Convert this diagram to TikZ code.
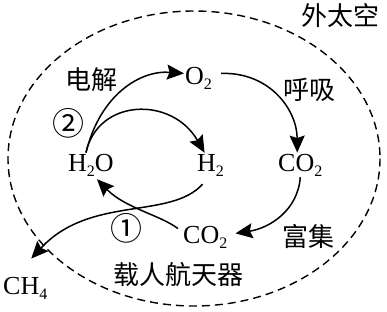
\documentclass[tikz,border=0pt]{standalone}
\usepackage{fontspec}
\setmainfont{Liberation Serif}
\newfontfamily\cjk{Noto Sans CJK SC}
\usetikzlibrary{arrows.meta}
\newcommand\subn[1]{\raisebox{-5pt}{\fontsize{16}{16}\selectfont #1}}
\tikzset{
  lat/.style={inner sep=1pt, font=\fontsize{26}{26}\selectfont},
  zh/.style={inner sep=0pt, font=\cjk\fontsize{26}{26}\selectfont},
  circ/.style={inner sep=0pt, font=\cjk\fontsize{32}{32}\selectfont},
  arr/.style={line width=1.5pt, -{Stealth[length=17pt,width=15pt,inset=2.5pt]}},
  bound/.style={line width=1.4pt, dash pattern=on 8pt off 5pt}
}
\begin{document}
\begin{tikzpicture}[x=1pt,y=-1pt]
\useasboundingbox (0,0) rectangle (387,311);
\draw[bound] (194,158.5) ellipse [x radius=186, y radius=147.5];
% texts
\node[zh] (space) at (340,16) {外太空};
\node[zh] (elec) at (91,80) {电解};
\node[zh] (breath) at (309,90) {呼吸};
\node[zh] (enrich) at (308,237) {富集};
\node[zh] (craft) at (178,275) {载人航天器};
\node[circ] (n2) at (68,123) {②};
\node[circ] (n1) at (126,228) {①};
% species
\node[lat, anchor=base west] (o2) at (184,84) {O\subn{2}};
\node[lat, anchor=base west] (h2o) at (67,171) {H\subn{2}O};
\node[lat, anchor=base west] (h2) at (196,171) {H\subn{2}};
\node[lat, anchor=base west] (co2a) at (277,171) {CO\subn{2}};
\node[lat, anchor=base west] (co2b) at (182,243) {CO\subn{2}};
\node[lat, anchor=base west] (ch4) at (2,294) {CH\subn{4}};
% connectors
\draw[arr] ([xshift=-5pt]h2o.north) .. controls (100,95) and (140,70) .. ([yshift=4.5pt]o2.west);
\draw[arr] ([xshift=-5pt]h2o.north) .. controls (98,98) and (172,96) .. ([xshift=-6pt]h2.north);
\draw[arr] ([xshift=8pt,yshift=4.5pt]o2.east) .. controls (270,72) and (297,110) .. ([xshift=-3pt]co2a.north);
\draw[arr] (co2a.south) .. controls (298,210) and (270,228) .. ([xshift=7pt,yshift=3.5pt]co2b.east);
\draw[arr] ([xshift=-4pt,yshift=-4pt]co2b.north west) .. controls (160,215) and (125,208) .. ([xshift=6pt,yshift=-2pt]h2o.south);
\draw[arr] ([xshift=-8pt,yshift=-7pt]h2.south) .. controls (170,220) and (90,195) .. ([xshift=6pt,yshift=17pt]ch4.north);
\end{tikzpicture}
\end{document}
